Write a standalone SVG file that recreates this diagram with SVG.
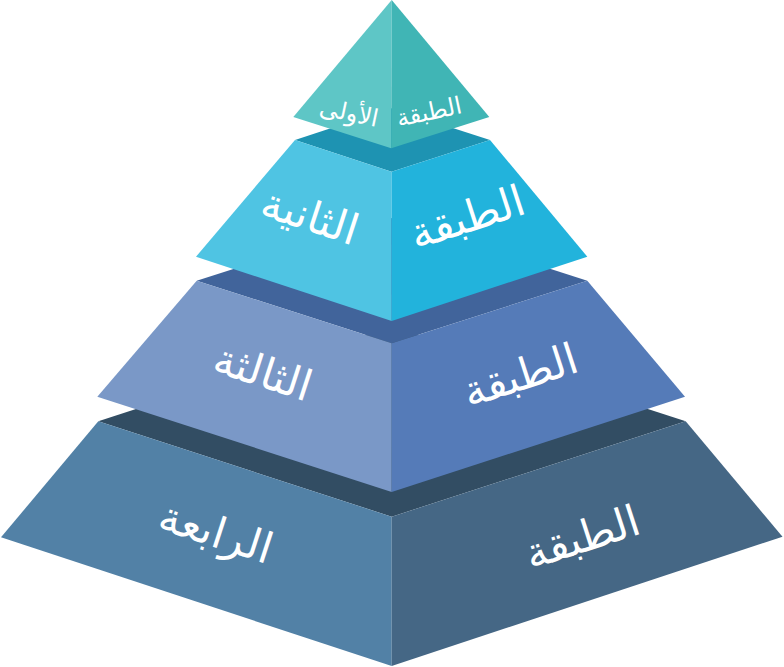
<svg xmlns="http://www.w3.org/2000/svg" width="784" height="667" viewBox="0 0 784 667">
<style>
.lbl{font-family:"DejaVu Sans",sans-serif;fill:#ffffff;text-anchor:middle;dominant-baseline:central}
.big{font-size:43px}
.small{font-size:24px}
</style>
<rect width="784" height="667" fill="#ffffff"/>
<g id="tier4">
<polygon points="98.3,421.3 391.7,326 685.7,421.3 391.7,516.7" fill="#324D63"/>
<polygon points="98.3,421.3 391.7,516.7 391.7,666 1,537.3" fill="#5281A6"/>
<polygon points="391.7,516.7 685.7,421.3 782.5,536.7 391.7,666" fill="#456785"/>
<text class="lbl big" transform="translate(216,532) rotate(18)">الرابعة</text>
<text class="lbl big" transform="translate(582,537) rotate(-18)">الطبقة</text>
</g>
<g id="tier3">
<polygon points="196.7,280.7 391.7,218 587.3,280.7 391.7,343.3" fill="#41649B"/>
<polygon points="196.7,280.7 391.7,343.3 391.7,492 97.3,396.7" fill="#7A98C7"/>
<polygon points="391.7,343.3 587.3,280.7 685,396.7 391.7,492" fill="#557BB8"/>
<text class="lbl big" transform="translate(263,372) rotate(18)">الثالثة</text>
<text class="lbl big" transform="translate(520,375) rotate(-18)">الطبقة</text>
</g>
<g id="tier2">
<polygon points="295,140 391.5,108.3 490,140 391.5,171.7" fill="#1E93B2"/>
<polygon points="295,140 391.5,171.7 391.7,321 196,256.7" fill="#4FC4E3"/>
<polygon points="391.5,171.7 490,140 587.3,256.7 391.7,321" fill="#22B3DC"/>
<text class="lbl big" transform="translate(310,216) rotate(18)">الثانية</text>
<text class="lbl big" transform="translate(467,217) rotate(-18)">الطبقة</text>
</g>
<g id="tier1">
<polygon points="391.7,0 391.2,148.3 293.3,117" fill="#5EC6C6"/>
<polygon points="391.7,0 489.3,117 391.2,148.3" fill="#40B5B5"/>
<text class="lbl small" transform="translate(349,113) rotate(12)">الأولى</text>
<text class="lbl small" transform="translate(429,112) rotate(-12)">الطبقة</text>
</g>
<g id="connectors"/>
</svg>
